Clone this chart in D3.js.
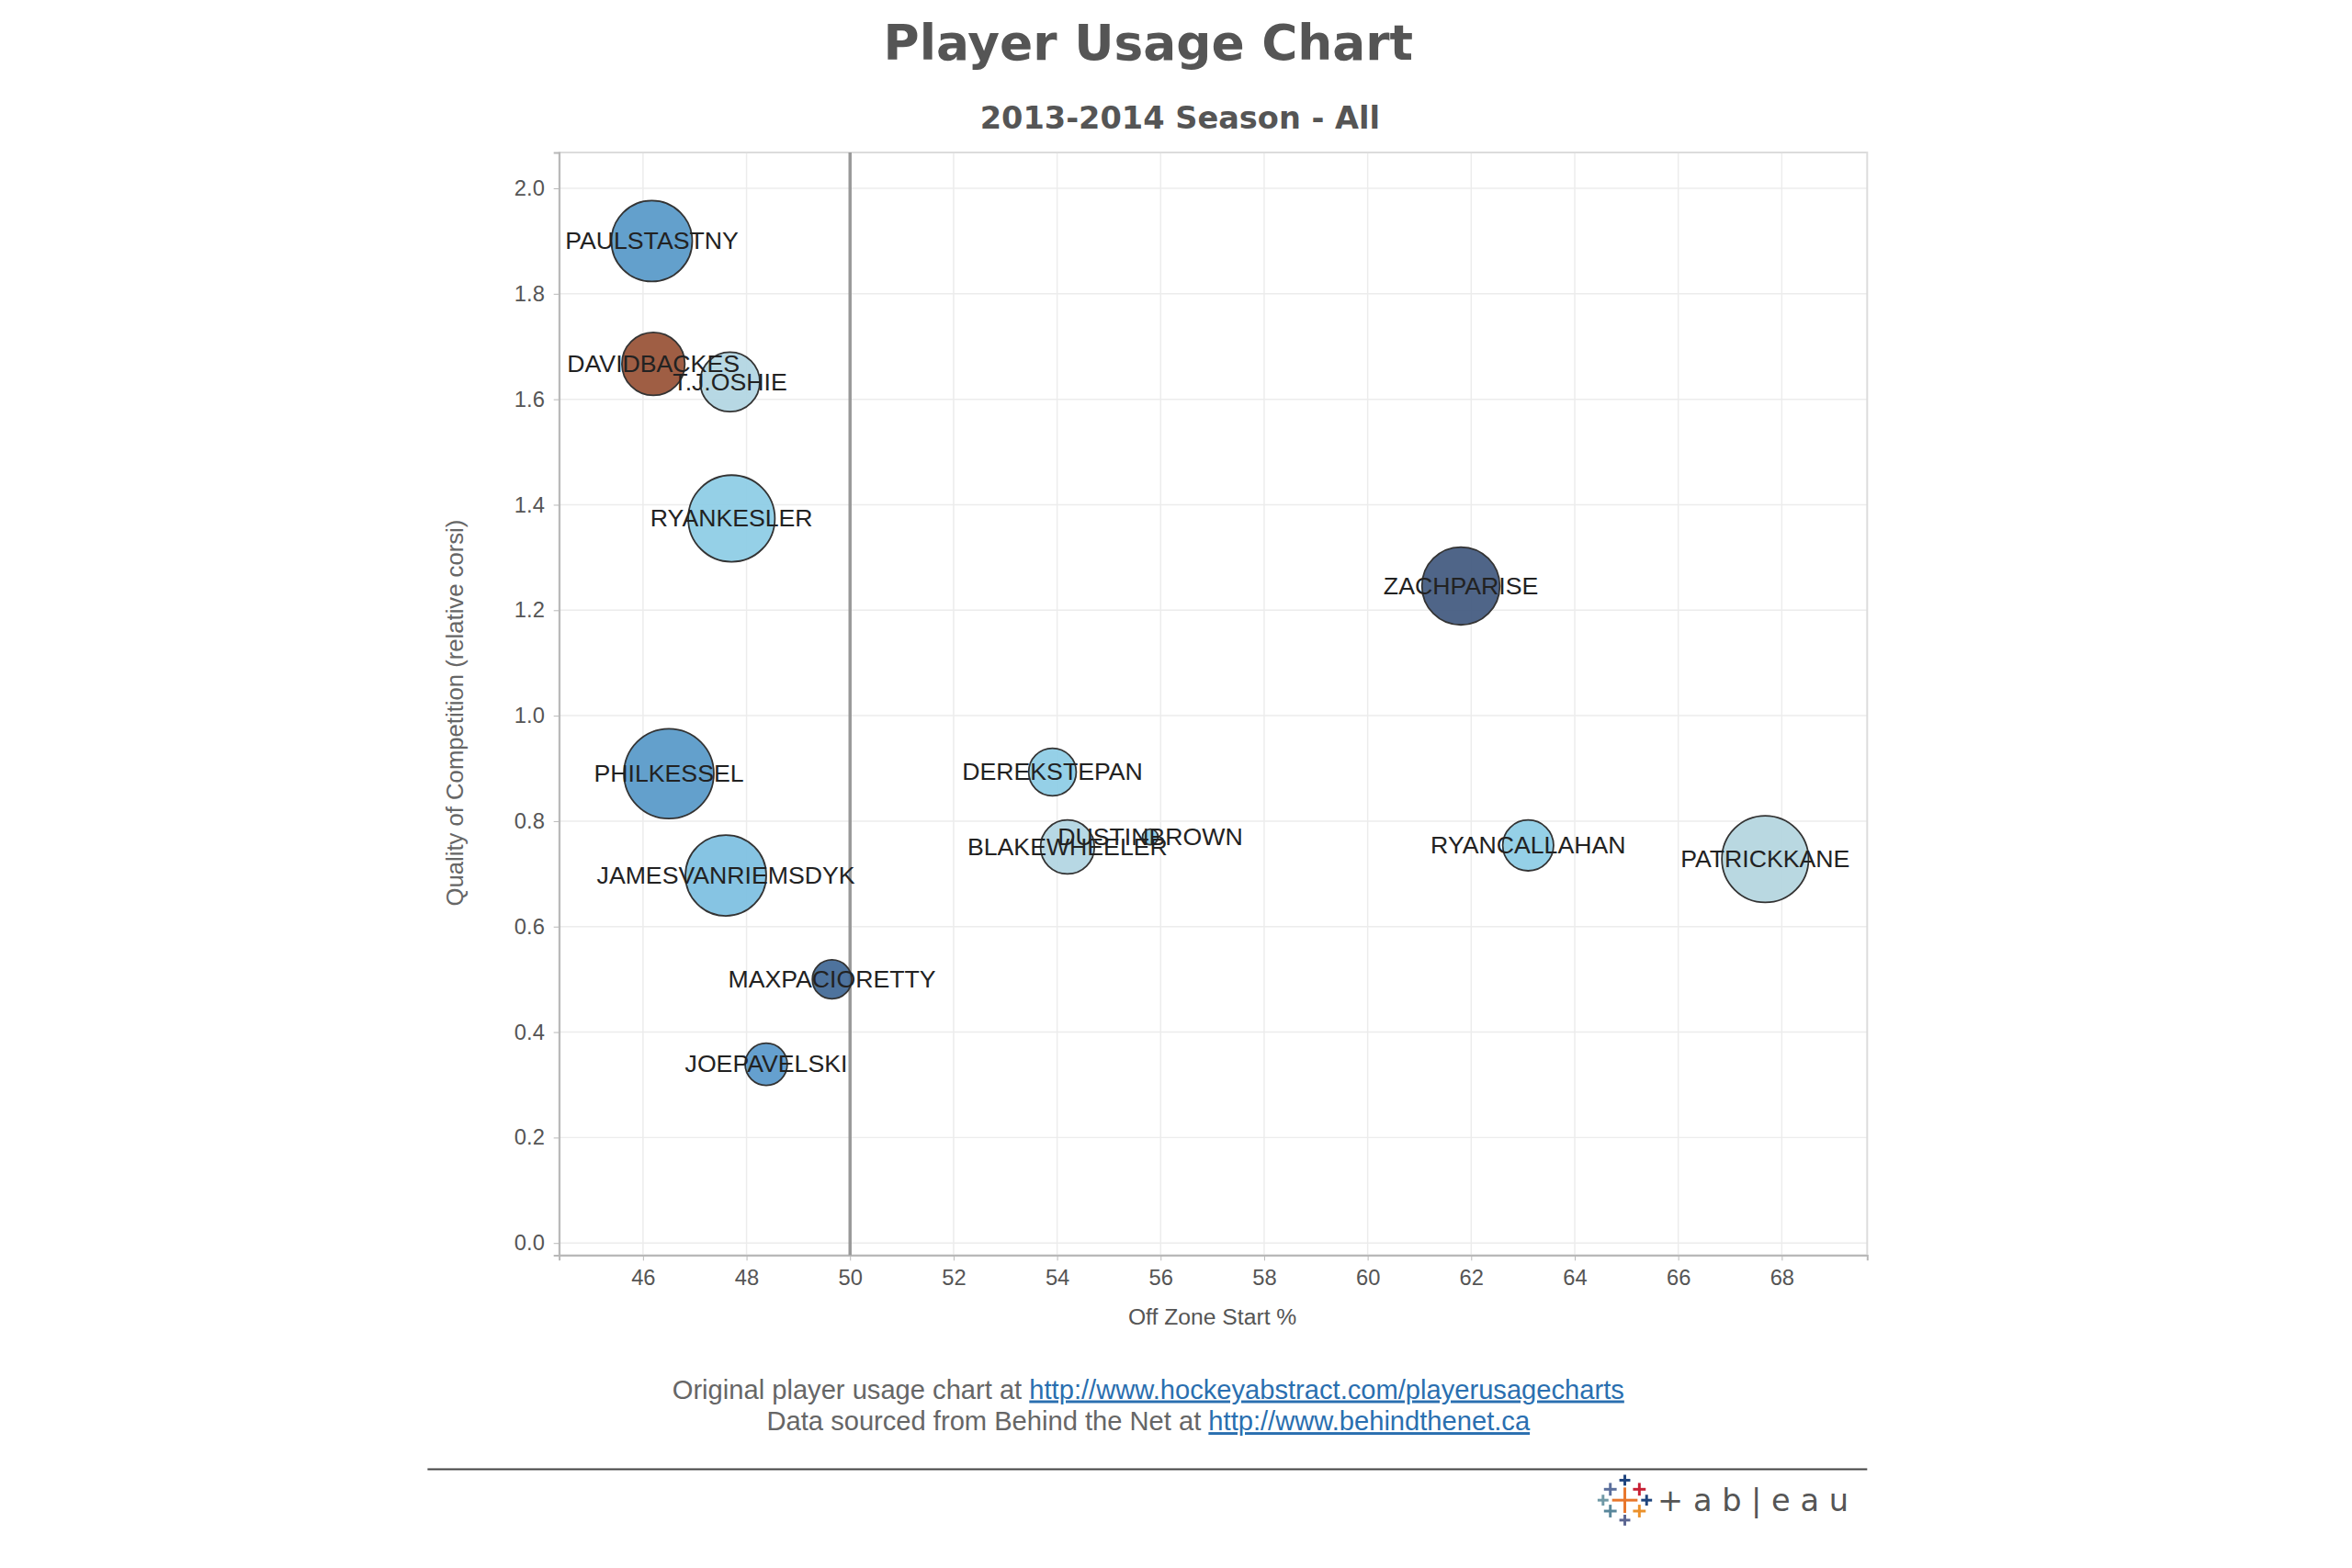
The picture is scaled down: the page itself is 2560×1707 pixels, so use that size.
<!DOCTYPE html>
<html>
<head>
<meta charset="utf-8">
<script src="https://cdn.jsdelivr.net/npm/d3@7"></script>
<style>
body { margin:0; background:#fff; }
</style>
</head>
<body>
<svg id="chart" width="2560" height="1707"></svg>
<script>
// chart values
var players = ['PAULSTASTNY','DAVIDBACKES','T.J.OSHIE','RYANKESLER','ZACHPARISE','PHILKESSEL','DEREKSTEPAN','BLAKEWHEELER','DUSTINBROWN','RYANCALLAHAN','PATRICKKANE','JAMESVANRIEMSDYK','MAXPACIORETTY','JOEPAVELSKI'];
var ozs = [46.17, 46.2, 47.68, 47.71, 61.8, 46.5, 53.91, 54.2, 55.8, 63.1, 67.68, 47.6, 49.65, 48.38];
var qoc = [1.90, 1.667, 1.633, 1.374, 1.246, 0.89, 0.893, 0.751, 0.77, 0.754, 0.728, 0.697, 0.50, 0.339];
var sizes = [81, 49, 44, 93, 75, 100, 28, 36, 3, 32, 93, 81, 19, 22];
var colors = ['#5b9bc9','#9a553a','#b3d6e3','#8fcde6','#465d82','#5b9bc9','#8fcde6','#b3d6e3','#8fcde6','#8fcde6','#b5d6df','#7fc1e1','#456c98','#5d9bcc'];
var xTicks = [46,48,50,52,54,56,58,60,62,64,66,68];
var yTicks = [0,0.2,0.4,0.6,0.8,1.0,1.2,1.4,1.6,1.8,2.0];

var svg = d3.select('#chart').append('g').attr('transform', 'scale(0.988)');
var pL = 616, pR = 2057, pT = 168, pB = 1383;
var x = d3.scaleLinear().domain([44.38, 69.65]).range([pL, pR]);
var y = d3.scaleLinear().domain([-0.023, 2.068]).range([pB, pT]);
var r = d3.scaleSqrt().domain([0, 100]).range([0, 49.5]);

// grid
svg.append('g').selectAll('line').data(xTicks).join('line')
  .attr('x1', d => x(d)).attr('x2', d => x(d)).attr('y1', pT).attr('y2', pB)
  .attr('stroke', '#ececec').attr('stroke-width', 1.5);
svg.append('g').selectAll('line').data(yTicks).join('line')
  .attr('x1', pL).attr('x2', pR).attr('y1', d => y(d)).attr('y2', d => y(d))
  .attr('stroke', '#ececec').attr('stroke-width', 1.5);
svg.append('rect').attr('x', pL).attr('y', pT).attr('width', pR-pL).attr('height', pB-pT)
  .attr('fill', 'none').attr('stroke', '#dcdcdc').attr('stroke-width', 2);

// axes
var xAxis = svg.append('g').attr('transform', 'translate(0,' + pB + ')')
  .call(d3.axisBottom(x).tickValues(xTicks).tickSize(6).tickPadding(10));
var yAxis = svg.append('g').attr('transform', 'translate(' + pL + ',0)')
  .call(d3.axisLeft(y).tickValues(yTicks).tickFormat(d3.format('.1f')).tickSize(6).tickPadding(10));
[xAxis, yAxis].forEach(function (a) {
  a.selectAll('path').attr('stroke', '#b8b8b8').attr('stroke-width', 2);
  a.selectAll('line').attr('stroke', '#b8b8b8');
  a.selectAll('text').attr('font-family', 'Liberation Sans, Arial').attr('font-size', 24).attr('fill', '#555');
});

// 50% line
svg.append('line').attr('x1', x(50)).attr('x2', x(50)).attr('y1', pT).attr('y2', pB)
  .attr('stroke', '#999').attr('stroke-width', 3.5);

svg.append('text').attr('x', x(57)).attr('y', 1460).attr('text-anchor', 'middle')
  .attr('font-family', 'Liberation Sans, Arial').attr('font-size', 25).attr('fill', '#555').text('Off Zone Start %');
svg.append('text').attr('transform', 'translate(510,' + ((pT+pB)/2 + 10) + ') rotate(-90)').attr('text-anchor', 'middle')
  .attr('font-family', 'Liberation Sans, Arial').attr('font-size', 26).attr('fill', '#666').text('Quality of Competition (relative corsi)');

// bubbles
var idx = d3.range(players.length).sort((a, b) => sizes[b] - sizes[a]);
svg.append('g').selectAll('circle').data(idx).join('circle')
  .attr('cx', i => x(ozs[i])).attr('cy', i => y(qoc[i])).attr('r', i => r(sizes[i]))
  .attr('fill', i => colors[i]).attr('fill-opacity', 0.95).attr('stroke', '#333').attr('stroke-width', 1.8);
svg.append('g').selectAll('text').data(idx).join('text')
  .attr('x', i => x(ozs[i])).attr('y', i => y(qoc[i]) + 9).attr('text-anchor', 'middle')
  .attr('font-family', 'Liberation Sans, Arial').attr('font-size', 27).attr('fill', '#222')
  .text(i => players[i]);

// titles
svg.append('text').attr('x', 1265).attr('y', 66).attr('text-anchor', 'middle')
  .attr('font-family', 'DejaVu Sans').attr('font-weight', 'bold').attr('font-size', 54).attr('fill', '#555').text('Player Usage Chart');
svg.append('text').attr('x', 1300).attr('y', 142).attr('text-anchor', 'middle')
  .attr('font-family', 'DejaVu Sans').attr('font-weight', 'bold').attr('font-size', 34).attr('fill', '#555').text('2013-2014 Season - All');

// footer
var f1 = svg.append('text').attr('x', 1265).attr('y', 1541).attr('text-anchor', 'middle')
  .attr('font-family', 'Liberation Sans, Arial').attr('font-size', 29.5).attr('fill', '#666');
f1.append('tspan').text('Original player usage chart at ');
f1.append('tspan').attr('fill', '#2a6fb0').attr('text-decoration', 'underline').text('http://www.hockeyabstract.com/playerusagecharts');
var f2 = svg.append('text').attr('x', 1265).attr('y', 1576).attr('text-anchor', 'middle')
  .attr('font-family', 'Liberation Sans, Arial').attr('font-size', 29.5).attr('fill', '#666');
f2.append('tspan').text('Data sourced from Behind the Net at ');
f2.append('tspan').attr('fill', '#2a6fb0').attr('text-decoration', 'underline').text('http://www.behindthenet.ca');

svg.append('line').attr('x1', 471).attr('x2', 2057).attr('y1', 1619).attr('y2', 1619).attr('stroke', '#444').attr('stroke-width', 2);

// tableau mark
var logo = svg.append('g').attr('transform', 'translate(1790,1653)');
[[0,0,14,'#e8762b'],[-16,-12,7,'#5b6f9c'],[16,-12,7,'#c72035'],[-16,12,7,'#59879b'],[16,12,7,'#eb912b'],[0,-22,6,'#1f447e'],[0,22,6,'#5b6591'],[-24,0,6,'#7099a6'],[24,0,6,'#1f457e']]
  .forEach(function (c) {
    logo.append('line').attr('x1', c[0]-c[2]).attr('x2', c[0]+c[2]).attr('y1', c[1]).attr('y2', c[1]).attr('stroke', c[3]).attr('stroke-width', 3);
    logo.append('line').attr('x1', c[0]).attr('x2', c[0]).attr('y1', c[1]-c[2]).attr('y2', c[1]+c[2]).attr('stroke', c[3]).attr('stroke-width', 3);
  });
svg.append('text').attr('x', 1826).attr('y', 1665).attr('font-family', 'DejaVu Sans').attr('font-size', 34)
  .attr('fill', '#555').attr('letter-spacing', 0).text('+ a b | e a u');
</script>
</body>
</html>
